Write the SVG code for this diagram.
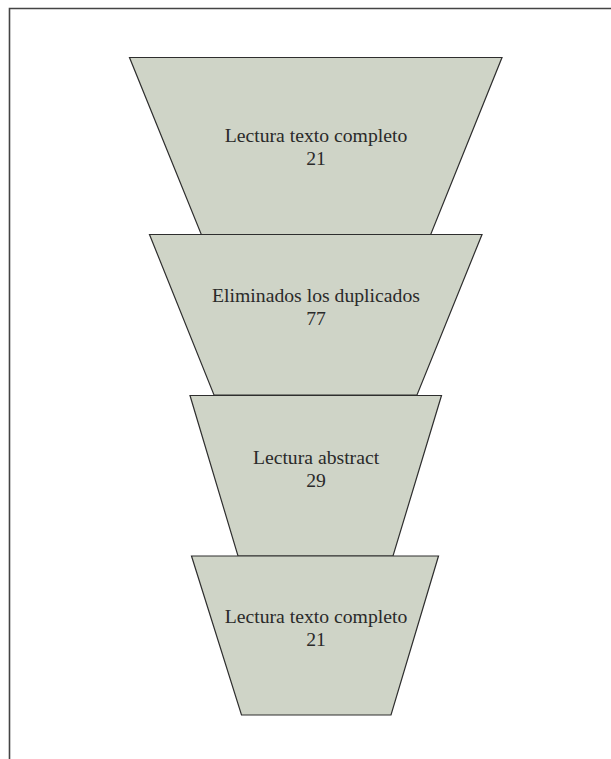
<svg xmlns="http://www.w3.org/2000/svg" width="611" height="759" viewBox="0 0 611 759">
<style>
.t{fill:#cfd4c7;stroke:#2e2e2e;stroke-width:1.2}
.l{font-family:"Liberation Serif","Times New Roman",serif;font-size:19.7px;fill:#2a2a2a;text-anchor:middle}
</style>
<rect x="0" y="0" width="611" height="759" fill="#fff"/>
<path d="M9.5 766V8.5H620" fill="none" stroke="#444" stroke-width="1.6"/>
<g id="n1"><polygon class="t" points="129.5,57.5 502,57.5 430.5,235 201.5,235"/><text class="l" x="316" y="142">Lectura texto completo</text><text class="l" x="316" y="165">21</text></g>
<g id="n2"><polygon class="t" points="149.5,234.5 482,234.5 417,395 214,395"/><text class="l" x="316" y="302">Eliminados los duplicados</text><text class="l" x="316" y="325">77</text></g>
<g id="n3"><polygon class="t" points="190,395.5 441.5,395.5 393,556 238,556"/><text class="l" x="316" y="464">Lectura abstract</text><text class="l" x="316" y="487">29</text></g>
<g id="n4"><polygon class="t" points="191.5,556 438.5,556 391,715 241.5,715"/><text class="l" x="316" y="623">Lectura texto completo</text><text class="l" x="316" y="646">21</text></g>
<g id="connectors"></g>
</svg>
